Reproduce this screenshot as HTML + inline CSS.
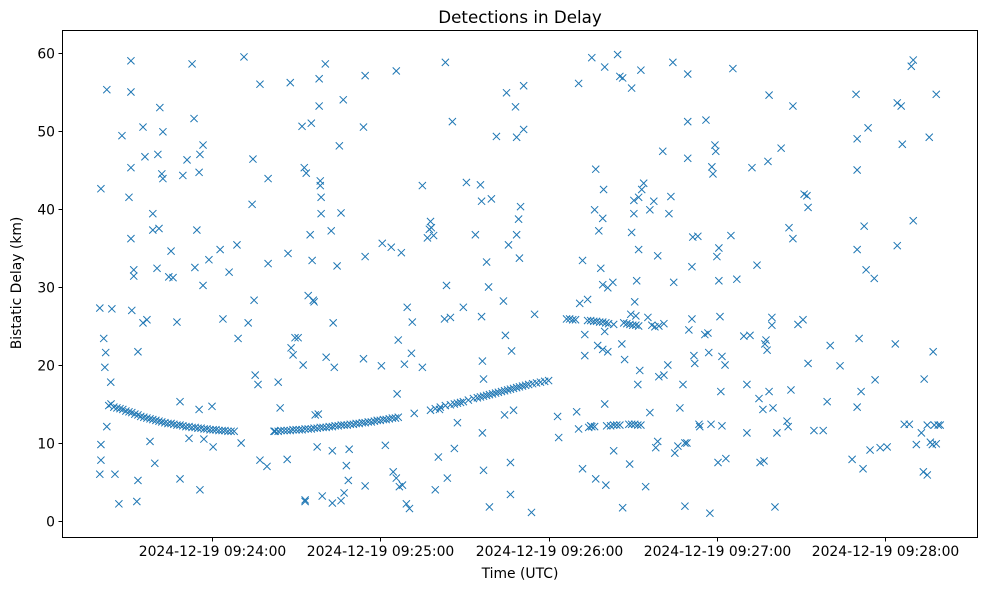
<!DOCTYPE html>
<html><head><meta charset="utf-8">
<style>
html,body{margin:0;padding:0;background:#fff;}
svg{display:block;font-family:"DejaVu Sans","Liberation Sans",sans-serif;}
</style></head>
<body>
<svg id="chart" width="989" height="590" viewBox="0 0 989 590">
<rect x="0" y="0" width="989" height="590" fill="#fff"/>
<text x="520" y="23" text-anchor="middle" font-size="16.7">Detections in Delay</text>
<g id="points"></g>
<g id="axes"></g>
<rect x="62.5" y="30.5" width="915" height="507" fill="none" stroke="#000" stroke-width="1"/>
<text x="520" y="578" text-anchor="middle" font-size="13.9">Time (UTC)</text>
<text transform="translate(21,283) rotate(-90)" text-anchor="middle" font-size="13.9">Bistatic Delay (km)</text>
</svg>
<script>
// times in seconds after 2024-12-19 09:23:00 UTC, delays in km
const times = [20,20.4,20,20.4,20.4,21.4,21.8,22.1,22.5,22.5,23.9,24.3,25.4,26.8,27.9,30.4,31.1,31.1,31.1,31.1,31.4,32.1,32.1,33.2,33.6,33.6,35.4,36.1,35.4,36.8,37.9,38.9,38.9,39.6,40.4,40.7,41.1,41.4,42.1,42.5,42.5,44.6,45.4,46.1,47.5,48.6,48.6,49.6,51.1,51.8,52.9,53.6,53.9,54.6,55.4,55.4,55.7,55.7,56.8,56.8,57.1,58.9,60,60.4,62.9,63.9,66.1,68.9,69.3,70.4,71.4,72.9,74.3,74.6,75,75.4,76.4,77.1,77.1,79.6,80,80,82.1,83.6,84.3,86.8,87.9,87.1,88.2,88.9,89.6,90.7,92.1,92.9,93.6,92.5,93.2,93.2,94.3,95.4,95,95.7,96.1,96.4,96.8,97.9,97.5,98.2,98.2,98.6,98.6,98.9,98.9,99.3,100.4,100.7,102.5,103.2,102.9,103.6,104.6,105.4,106,106.8,106,107.1,107.9,108.6,108.9,102.9,114,114.6,114,114.6,114.6,120.4,120.7,121.8,123.9,124.6,125.7,125.7,126,126.4,126.8,127.5,127.9,128.6,129.3,129.6,130.4,131.1,131.4,132.1,135,135,136.8,137.5,137.9,138.2,139,139.6,140.7,141.1,142.9,143.2,143.6,143.9,145,145.7,146.4,147.5,149.6,150.7,153.9,155.7,156.1,156.1,156.4,156.4,156.8,156.8,157.9,158.6,158.9,159.6,161.4,163.9,164.3,164.6,165,165.7,166.4,166.4,166.8,167.5,168.2,168.6,168.6,169.3,169.6,170,171.1,171.1,173.9,175,183.2,183.6,190,190.7,190.7,191.1,192.1,192.1,192.9,192.9,193.9,195,195.4,196.4,196.8,196.8,197.5,197.9,198.6,199.3,199.3,199.3,199.6,200,200,200,200.4,201.1,201.1,202.9,203.2,204.6,205.4,206.1,206.4,206.4,207.1,208.9,209.3,209.6,209.6,210.4,210.4,210.7,211.1,211.4,211.8,212.1,212.1,212.9,212.5,213.2,213.9,214.6,215.4,216.1,216.1,216.8,217.5,218.2,218.9,218.9,219.3,220.7,221.1,222.5,222.9,223.6,224.3,224.6,225,226.1,226.8,227.9,228.6,228.6,229.3,229.6,229.6,229.6,230,231.1,231.1,231.4,231.8,232.1,233.2,233.6,233.9,235.7,236.1,236.8,237.1,237.5,237.9,238.2,238.6,239.3,239.6,240,240.4,240.7,240.7,241.1,241.4,241.8,241.8,242.9,243.2,245,245.7,247.1,249.6,250.7,250.7,251.8,252.5,254.3,255,255.4,256.4,256.8,257.1,257.5,257.9,258.2,258.6,258.6,259.6,259.6,260,260.7,261.4,262.9,265,265.4,265.7,266.4,267.1,267.1,268.9,270.7,271.1,272.1,272.5,272.5,274.6,277.9,279.3,280.4,283.9,288.2,289.6,290,290,290,290,290.7,291.4,292.1,292.5,293.2,293.9,294.6,296.1,296.4,298.2,300.7,303.6,304.3,304.3,305.7,306.1,306.8,308.6,309.3,310,310,311.1,312.9,313.6,313.9,315,315,315.7,316.1,316.8,317.1,317.5,318.2,318.2,318.9,319.6,
23.2,24.0,25.0,26.1,27.2,28.2,29.3,30.4,31.4,32.5,33.6,34.6,35.7,36.8,37.9,38.9,40.0,41.1,42.1,43.2,44.3,45.4,46.4,47.5,48.6,49.6,50.7,51.8,52.9,54.0,55.0,56.1,57.2,58.2,59.3,60.4,61.4,62.5,63.6,64.6,65.7,66.8,67.9,
82.5,83.6,84.6,85.7,86.8,87.9,88.9,90.0,91.1,92.1,93.2,94.3,95.4,96.4,97.5,98.6,99.6,100.7,101.8,102.9,103.9,105.0,106.1,107.1,108.2,109.3,110.4,111.4,112.5,113.6,114.6,115.7,116.8,117.9,118.9,120.0,121.1,122.1,123.2,124.3,125.4,126.4,
137.9,139.6,141.4,143.2,145.0,146.4,147.5,148.6,149.6,151.4,153.2,154.6,155.7,156.8,157.9,158.9,160.0,161.1,162.1,163.2,164.3,165.4,166.4,167.5,168.6,169.6,170.7,171.8,172.9,174.3,175.7,177.1,178.6,180.0,
186.4,187.5,188.6,189.6,193.9,195.0,196.1,197.1,198.2,199.3,200.4,201.4,203.2,
194.3,195.4,196.4,200.7,202.1,203.2,204.3,205.4,208.6,209.6,210.7,211.8,212.9,
206.8,207.9,209.0,210.0,211.1,212.1,217.9,219.3,221.1];
const delays = [27.3,42.6,6,9.8,7.8,23.4,19.7,21.6,55.3,12.1,17.8,27.2,6,2.2,49.4,41.5,59,55,45.3,36.2,27,32.2,31.4,2.5,21.7,5.2,50.5,46.7,25.4,25.8,10.2,39.4,37.3,7.4,32.4,47,37.5,53,44.5,49.9,43.9,31.3,34.6,31.2,25.5,15.3,5.4,44.3,46.3,10.6,58.6,51.6,32.5,37.3,44.7,14.3,4,47,48.2,30.2,10.5,33.5,14.7,9.5,34.8,25.9,31.9,35.4,23.4,10,59.5,25.4,40.6,46.4,28.3,18.7,17.5,56,7.8,7,33,43.9,11.5,17.8,14.5,7.9,56.2,34.3,22.2,21.3,23.5,23.5,50.6,45.3,44.6,20,2.7,2.5,28.9,51,36.7,33.4,28.3,28.1,13.6,13.7,9.5,53.2,56.7,43.6,43,41.5,39.4,3.2,58.6,21,37.2,25.4,9,19.7,32.7,48.1,39.5,54,2.6,3.6,7.1,5.2,9.2,2.3,50.5,57.1,20.8,4.5,33.9,19.9,35.6,9.7,35.1,6.3,57.7,5.5,16.3,23.2,4.4,34.4,4.6,20.1,2.2,27.4,1.6,21.5,25.5,13.8,43,19.7,36.3,37.4,38.4,37.6,36.6,4,8.2,14.3,25.9,58.8,30.2,5.5,26.1,51.2,9.3,12.6,27.4,43.4,36.7,43.1,41,26.2,11.3,20.5,6.5,18.2,33.2,30,1.8,41.3,49.3,28.2,13.6,23.8,54.9,35.4,7.5,3.4,21.8,14.2,53.1,36.7,49.2,38.7,33.7,40.3,55.8,50.2,1.1,26.5,13.4,10.7,14,56.1,11.8,27.9,33.4,6.7,21.2,23.9,28.4,12.2,59.4,39.9,45.1,5.4,22.5,37.2,32.4,38.8,30.3,22,42.5,58.2,24.3,15,4.6,21.7,29.9,30.6,9,59.8,57,22.7,1.7,56.8,20.7,7.3,26.5,37,55.5,39.4,41.1,28.1,26.3,30.8,17.5,34.8,41.5,57.8,19.3,42.5,43.3,4.4,26.1,13.9,39.9,25.1,41,9.4,34,10.2,18.5,47.4,18.7,20,39.4,41.6,58.8,30.6,8.7,9.6,14.5,17.5,1.9,10,10,57.3,46.5,51.2,24.5,32.6,25.9,36.4,21.2,20.2,36.5,12.4,12.1,23.9,51.4,24.1,21.6,1,12.4,45.4,44.5,48.2,47.4,33.9,7.5,35,30.8,26.2,16.6,12.2,21.1,20,8,36.6,58,31,23.7,11.3,17.5,23.8,45.3,32.8,15.7,7.5,14.3,7.7,22.7,23.2,21.9,46.1,54.6,16.6,26.1,25.1,14.5,1.8,11.3,47.8,12.8,12.1,37.6,16.8,53.2,36.2,25.2,25.8,41.9,41.7,40.2,20.2,11.6,11.6,15.3,22.5,19.9,7.9,54.7,49,45,34.8,14.6,23.4,16.6,6.7,37.8,32.2,50.4,9.1,31.1,18.1,9.4,9.5,22.7,35.3,53.6,53.2,48.3,12.4,12.4,58.3,59.1,38.5,9.8,11.3,6.3,18.2,5.9,12.3,49.2,10.1,9.8,21.7,12.3,54.7,9.9,12.3,12.3,
14.8,15.0,14.6,14.5,14.4,14.3,14.1,14.0,13.9,13.7,13.6,13.4,13.3,13.2,13.1,13.0,12.9,12.8,12.7,12.6,12.5,12.5,12.4,12.3,12.3,12.2,12.1,12.1,12.0,12.0,11.9,11.9,11.8,11.8,11.7,11.7,11.7,11.6,11.6,11.6,11.5,11.5,11.5,
11.5,11.5,11.6,11.6,11.6,11.6,11.7,11.7,11.7,11.7,11.8,11.8,11.8,11.9,11.9,12.0,12.0,12.0,12.1,12.1,12.2,12.2,12.3,12.3,12.3,12.4,12.4,12.5,12.5,12.6,12.6,12.7,12.7,12.8,12.9,12.9,13.0,13.0,13.1,13.2,13.2,13.3,
14.2,14.4,14.6,14.8,14.9,15.0,15.1,15.2,15.3,15.5,15.7,15.8,15.9,16.0,16.1,16.2,16.3,16.4,16.5,16.6,16.7,16.8,16.9,17.0,17.1,17.2,17.3,17.4,17.5,17.6,17.7,17.8,17.9,18.0,
25.9,25.9,25.8,25.8,25.7,25.7,25.6,25.6,25.5,25.5,25.4,25.3,25.2,
12.0,12.1,12.1,12.2,12.2,12.3,12.3,12.3,12.4,12.4,12.4,12.3,12.3,
25.4,25.3,25.2,25.1,25.1,25.0,24.9,25.0,25.3];
const yTicks = [0,10,20,30,40,50,60];
const xTicks = [60,120,180,240,300];
const xTickLabels = ["2024-12-19 09:24:00","2024-12-19 09:25:00","2024-12-19 09:26:00","2024-12-19 09:27:00","2024-12-19 09:28:00"];

const NS = "http://www.w3.org/2000/svg";
function xScale(t){ return 212 + (t - 60) * 2.805; }
function yScale(v){ return 521 - v * 7.8; }

const pg = document.getElementById('points');
const n = Math.min(times.length, delays.length);
for (let i = 0; i < n; i++) {
  const cx = xScale(times[i]), cy = yScale(delays[i]), r = 3.6;
  const p = document.createElementNS(NS, 'path');
  p.setAttribute('d', `M${cx-r},${cy-r}L${cx+r},${cy+r}M${cx-r},${cy+r}L${cx+r},${cy-r}`);
  p.setAttribute('stroke', '#1f77b4');
  p.setAttribute('stroke-width', '1');
  p.setAttribute('fill', 'none');
  
  
  pg.appendChild(p);
}

const ag = document.getElementById('axes');
yTicks.forEach(v => {
  const y = Math.round(yScale(v)) + 0.5;
  const l = document.createElementNS(NS, 'line');
  l.setAttribute('x1', 58.5); l.setAttribute('x2', 62.5);
  l.setAttribute('y1', y); l.setAttribute('y2', y);
  l.setAttribute('stroke', '#000');
  
  
  ag.appendChild(l);
  const t = document.createElementNS(NS, 'text');
  t.setAttribute('x', 55); t.setAttribute('y', y + 5);
  t.setAttribute('text-anchor', 'end'); t.setAttribute('font-size', '13.9');
  t.textContent = String(v);
  
  
  ag.appendChild(t);
});
xTicks.forEach((v, i) => {
  const x = Math.round(xScale(v)) + 0.5;
  const l = document.createElementNS(NS, 'line');
  l.setAttribute('x1', x); l.setAttribute('x2', x);
  l.setAttribute('y1', 537.5); l.setAttribute('y2', 541.5);
  l.setAttribute('stroke', '#000');
  
  
  ag.appendChild(l);
  const t = document.createElementNS(NS, 'text');
  t.setAttribute('x', x); t.setAttribute('y', 556);
  t.setAttribute('text-anchor', 'middle'); t.setAttribute('font-size', '13.9');
  t.textContent = xTickLabels[i];
  
  
  ag.appendChild(t);
});
</script>
</body></html>
